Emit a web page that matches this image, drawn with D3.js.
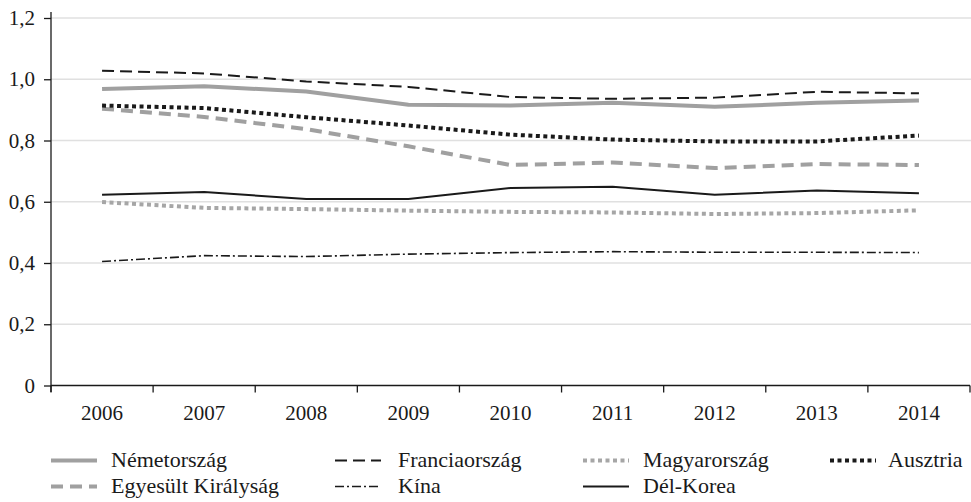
<!DOCTYPE html>
<html><head><meta charset="utf-8">
<script src="https://cdn.jsdelivr.net/npm/d3@7"></script>
<style>body{margin:0;background:#fff}svg{display:block}</style>
</head><body>
<svg id="c" width="971" height="502"></svg>
<script>
const years = ["2006","2007","2008","2009","2010","2011","2012","2013","2014"];
const yTicks = [0, 0.2, 0.4, 0.6, 0.8, 1.0, 1.2];
const nemetorszag = [0.968, 0.977, 0.960, 0.917, 0.914, 0.923, 0.910, 0.923, 0.931];
const franciaorszag = [1.028, 1.019, 0.993, 0.975, 0.942, 0.936, 0.940, 0.959, 0.954];
const magyarorszag = [0.599, 0.580, 0.576, 0.571, 0.567, 0.565, 0.560, 0.563, 0.572];
const ausztria = [0.914, 0.906, 0.876, 0.849, 0.819, 0.803, 0.797, 0.797, 0.816];
const egyesultKiralysag = [0.904, 0.877, 0.837, 0.781, 0.720, 0.728, 0.710, 0.723, 0.720];
const kina = [0.405, 0.424, 0.421, 0.429, 0.434, 0.437, 0.435, 0.435, 0.434];
const delKorea = [0.623, 0.632, 0.609, 0.609, 0.645, 0.649, 0.623, 0.637, 0.628];

const FONT = "'Liberation Serif', 'DejaVu Serif', serif";
const series = [
  {name:"Németország", values:nemetorszag, color:"#a0a0a0", width:4, dash:null, lx:51, tx:111, row:0},
  {name:"Franciaország", values:franciaorszag, color:"#1a1a1a", width:2, dash:"12,6", lx:335, tx:398, row:0},
  {name:"Magyarország", values:magyarorszag, color:"#a6a6a6", width:4, dash:"4,3.5", lx:583, tx:643, row:0},
  {name:"Ausztria", values:ausztria, color:"#1a1a1a", width:4, dash:"4,3.5", lx:830, tx:888, row:0},
  {name:"Egyesült Királyság", values:egyesultKiralysag, color:"#a0a0a0", width:4, dash:"12,7", lx:51, tx:111, row:1},
  {name:"Kína", values:kina, color:"#1a1a1a", width:1.6, dash:"9,3,2,3", lx:335, tx:398, row:1},
  {name:"Dél-Korea", values:delKorea, color:"#1a1a1a", width:2, dash:null, lx:583, tx:643, row:1}
];

const svg = d3.select("#c");
const x = d3.scaleBand().domain(years).range([51, 970]);
const y = d3.scaleLinear().domain([0, 1.2]).range([385.5, 18]);

// gridlines
svg.append("g").selectAll("line").data(yTicks.filter(d=>d>0)).join("line")
  .attr("x1", 51).attr("x2", 971).attr("y1", d=>y(d)).attr("y2", d=>y(d))
  .attr("stroke", "#e0e0e0").attr("stroke-width", 1.5);

// y axis
const yAxis = svg.append("g").attr("transform","translate(51,0)")
  .call(d3.axisLeft(y).tickValues(yTicks).tickSize(7).tickPadding(9)
    .tickFormat(d => d===0 ? "0" : d3.format(".1f")(d).replace(".", ",")));
yAxis.attr("font-family", FONT).attr("font-size", 21);
yAxis.select(".domain").attr("d", `M0,12V392`).attr("stroke","#1a1a1a").attr("stroke-width",1.3);
yAxis.selectAll(".tick line").attr("stroke","#1a1a1a").attr("stroke-width",1.3);
yAxis.selectAll(".tick text").style("font-family", FONT).style("font-size","21px").attr("fill","#1a1a1a");

// x axis
const xAxis = svg.append("g").attr("transform","translate(0,385.5)")
  .call(d3.axisBottom(x).tickSize(0).tickPadding(20));
xAxis.attr("font-family", FONT).attr("font-size", 21);
xAxis.select(".domain").attr("d","M51,0H970").attr("stroke","#1a1a1a").attr("stroke-width",1.3);
xAxis.selectAll(".tick text").style("font-family", FONT).style("font-size","21px").attr("fill","#1a1a1a");
const bounds = years.map(d => x(d)).concat([x(years[years.length-1]) + x.bandwidth()]);
xAxis.append("g").selectAll("line").data(bounds).join("line")
  .attr("x1", d=>d).attr("x2", d=>d).attr("y1", 0).attr("y2", 7)
  .attr("stroke","#1a1a1a").attr("stroke-width",1.3);

// lines
const line = d3.line().x((d,i)=>x(years[i]) + x.bandwidth()/2).y(d=>y(d));
const drawOrder = [6,5,2,4,3,0,1];
svg.append("g").selectAll("path").data(drawOrder.map(i=>series[i])).join("path")
  .attr("d", d=>line(d.values)).attr("fill","none")
  .attr("stroke", d=>d.color).attr("stroke-width", d=>d.width)
  .attr("stroke-dasharray", d=>d.dash);

// legend
const rowY = [460.5, 486.5];
const lg = svg.append("g").selectAll("g").data(series).join("g");
lg.append("line").attr("x1", d=>d.lx).attr("x2", d=>d.lx+46)
  .attr("y1", d=>rowY[d.row]).attr("y2", d=>rowY[d.row])
  .attr("stroke", d=>d.color).attr("stroke-width", d=>d.width)
  .attr("stroke-dasharray", d=>d.dash);
lg.append("text").attr("x", d=>d.tx).attr("y", d=>rowY[d.row]+6.5)
  .style("font-family", FONT).style("font-size","22px").attr("fill","#1a1a1a")
  .text(d=>d.name);
</script>
</body></html>
